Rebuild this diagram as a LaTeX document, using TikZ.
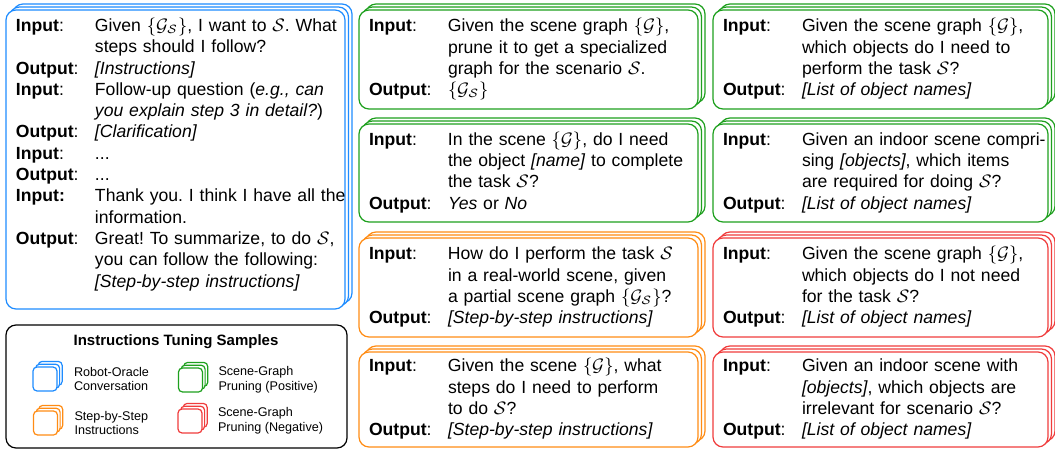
\documentclass[tikz,border=0pt]{standalone}
\usepackage{fontspec}
\setmainfont{Liberation Sans}
\usepackage{amsmath,amssymb}
\usepackage{xcolor}
\usetikzlibrary{positioning,shadows}
\frenchspacing
\definecolor{convblue}{RGB}{30,140,255}
\definecolor{posgreen}{RGB}{30,160,30}
\definecolor{steporange}{RGB}{255,140,20}
\definecolor{negred}{RGB}{240,60,60}
\tikzset{
	card/.style={
			draw=#1, fill=white, line width=0.6pt, rounded corners=5pt,
			align=left, inner xsep=5pt, inner ysep=0pt,
			font=\fontsize{8.8}{10.65}\selectfont,
			copy shadow={draw=#1, fill=white, shadow xshift=3.5pt, shadow yshift=3pt},
			copy shadow={draw=#1, fill=white, shadow xshift=1.75pt, shadow yshift=1.5pt}
		},
	icon/.style={
			draw=#1, fill=white, line width=0.6pt, rounded corners=2pt,
			minimum size=12pt, inner sep=0pt,
			copy shadow={draw=#1, fill=white, shadow xshift=2.6pt, shadow yshift=2.8pt},
			copy shadow={draw=#1, fill=white, shadow xshift=1.3pt, shadow yshift=1.4pt}
		},
	legendtext/.style={align=left, inner sep=0pt, font=\fontsize{6.3}{7.3}\selectfont}
}

\begin{document}
\begin{tikzpicture}[x=0.5pt,y=-0.5pt]
    \useasboundingbox (0,0) rectangle (1055,449);
    % conversation card
    \node[card=convblue, text width=159.5pt, minimum height=149.5pt] (conv) at (175.5,159.5) {%
        \begin{tabular}{@{}p{39.5pt}@{}l@{}}
            \textbf{Input}:  & Given $\{\mathcal{G}_\mathcal{S}\}$, I want to $\mathcal{S}$. What \\
                             & steps should I follow? \\
            \textbf{Output}: & \textit{[Instructions]} \\
            \textbf{Input}:  & Follow-up question (\textit{e.g., can} \\
                             & \textit{you explain step 3 in detail?}) \\
            \textbf{Output}: & \textit{[Clarification]} \\
            \textbf{Input}:  & ... \\
            \textbf{Output}: & ... \\
            \textbf{Input:}  & Thank you. I think I have all the \\
                             & information. \\
            \textbf{Output}: & Great! To summarize, to do $\mathcal{S}$, \\
                             & you can follow the following: \\
                             & \textit{[Step-by-step instructions]} \\[4.5pt]
        \end{tabular}};
    % legend
    \node[draw=black, line width=0.6pt, rounded corners=5pt, minimum width=170.5pt, minimum height=61.5pt] (legend) at (176.5,386.5) {};
    \node[font=\bfseries\fontsize{7.5}{9}\selectfont] (legendtitle) at (176,342) {Instructions Tuning Samples};
    \node[icon=convblue] (iconconv) at (45,379) {};
    \node[icon=posgreen] (iconpos) at (190.5,380) {};
    \node[icon=steporange] (iconstep) at (45.5,423) {};
    \node[icon=negred] (iconneg) at (190,421) {};
    \node[legendtext, right=8pt of iconconv] (txtconv) {Robot-Oracle\\Conversation};
    \node[legendtext, right=7.5pt of iconpos] (txtpos) {Scene-Graph\\Pruning (Positive)};
    \node[legendtext, right=8pt of iconstep] (txtstep) {Step-by-Step\\Instructions};
    \node[legendtext, right=7.5pt of iconneg] (txtneg) {Scene-Graph\\Pruning (Negative)};
    % middle column
    \node[card=posgreen, text width=159.5pt, minimum height=49.5pt] (prunepos) at (528.5,59.5) {%
        \begin{tabular}{@{}p{39.5pt}@{}l@{}}
            \textbf{Input}:  & Given the scene graph $\{\mathcal{G}\}$, \\
                             & prune it to get a specialized \\
                             & graph for the scenario $\mathcal{S}$. \\
            \textbf{Output}: & $\{\mathcal{G}_\mathcal{S}\}$ \\
        \end{tabular}};
    \node[card=posgreen, text width=159.5pt, minimum height=49pt] (needobj) at (528.5,173) {%
        \begin{tabular}{@{}p{39.5pt}@{}l@{}}
            \textbf{Input}:  & In the scene $\{\mathcal{G}\}$, do I need \\
                             & the object \textit{[name]} to complete \\
                             & the task $\mathcal{S}$? \\
            \textbf{Output}: & \textit{Yes} or \textit{No} \\
        \end{tabular}};
    \node[card=steporange, text width=159.5pt, minimum height=49.5pt] (stepreal) at (528.5,287.5) {%
        \begin{tabular}{@{}p{39.5pt}@{}l@{}}
            \textbf{Input}:  & How do I perform the task $\mathcal{S}$ \\
                             & in a real-world scene, given \\
                             & a partial scene graph $\{\mathcal{G}_\mathcal{S}\}$? \\
            \textbf{Output}: & \textit{[Step-by-step instructions]} \\
        \end{tabular}};
    \node[card=steporange, text width=159.5pt, minimum height=47.5pt] (stepscene) at (528.5,399.5) {%
        \begin{tabular}{@{}p{39.5pt}@{}l@{}}
            \textbf{Input}:  & Given the scene $\{\mathcal{G}\}$, what \\
                             & steps do I need to perform \\
                             & to do $\mathcal{S}$? \\
            \textbf{Output}: & \textit{[Step-by-step instructions]} \\
        \end{tabular}};
    % right column
    \node[card=posgreen, text width=157.5pt, minimum height=49.5pt] (listpos) at (880.5,59.5) {%
        \begin{tabular}{@{}p{39.5pt}@{}l@{}}
            \textbf{Input}:  & Given the scene graph $\{\mathcal{G}\}$, \\
                             & which objects do I need to \\
                             & perform the task $\mathcal{S}$? \\
            \textbf{Output}: & \textit{[List of object names]} \\
        \end{tabular}};
    \node[card=posgreen, text width=157.5pt, minimum height=49pt] (listindoor) at (880.5,173) {%
        \begin{tabular}{@{}p{39.5pt}@{}l@{}}
            \textbf{Input}:  & Given an indoor scene compri- \\
                             & sing \textit{[objects]}, which items \\
                             & are required for doing $\mathcal{S}$? \\
            \textbf{Output}: & \textit{[List of object names]} \\
        \end{tabular}};
    \node[card=negred, text width=157.5pt, minimum height=49.5pt] (listneg) at (880.5,287.5) {%
        \begin{tabular}{@{}p{39.5pt}@{}l@{}}
            \textbf{Input}:  & Given the scene graph $\{\mathcal{G}\}$, \\
                             & which objects do I not need \\
                             & for the task $\mathcal{S}$? \\
            \textbf{Output}: & \textit{[List of object names]} \\
        \end{tabular}};
    \node[card=negred, text width=157.5pt, minimum height=47.5pt] (listirr) at (880.5,399.5) {%
        \begin{tabular}{@{}p{39.5pt}@{}l@{}}
            \textbf{Input}:  & Given an indoor scene with \\
                             & \textit{[objects]}, which objects are \\
                             & irrelevant for scenario $\mathcal{S}$? \\
            \textbf{Output}: & \textit{[List of object names]} \\
        \end{tabular}};
\end{tikzpicture}
\end{document}
